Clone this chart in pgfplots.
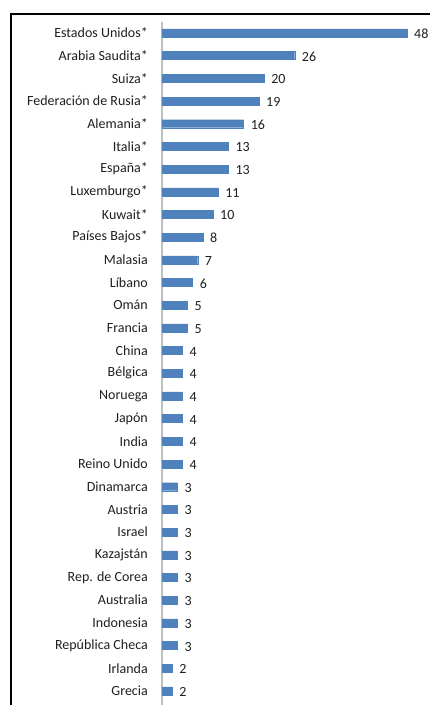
\documentclass[border=0pt]{standalone}
\usepackage{pgfplots}
\pgfplotsset{compat=1.18}
\usepackage{fontspec}
\setmainfont{Carlito}
\definecolor{barblue}{HTML}{4F81BD}
\definecolor{txt}{HTML}{1F1F1F}
\definecolor{axgray}{HTML}{BFBFBF}
\begin{document}
\begin{tikzpicture}
\useasboundingbox (0pt,0pt) rectangle (430pt,705pt);
\draw[line width=2pt] (10.5pt,0pt) -- (10.5pt,691.4pt) -- (430pt,691.4pt);
\begin{axis}[
  at={(162pt,0pt)}, anchor=south west,
  scale only axis, width=245pt, height=683.4pt,
  xmin=0, xmax=48, ymin=-0.5, ymax=29.62, y dir=reverse,
  xbar, bar width=8pt, clip=false,
  /pgf/number format/assume math mode=true,
  axis x line=none, axis y line*=left,
  y axis line style={draw=axgray, line width=1.8pt},
  major tick length=0pt,
  ytick={0,...,29},
  yticklabels={Estados Unidos*,Arabia Saudita*,Suiza*,Federación de Rusia*,Alemania*,Italia*,España*,Luxemburgo*,Kuwait*,Países Bajos*,Malasia,Líbano,Omán,Francia,China,Bélgica,Noruega,Japón,India,Reino Unido,Dinamarca,Austria,Israel,Kazajstán,Rep. de Corea,Australia,Indonesia,República Checa,Irlanda,Grecia},
  yticklabel style={font=\fontsize{14}{14}\selectfont, text=txt, anchor=east, inner sep=0pt, xshift=-14pt},
  nodes near coords,
  every node near coord/.append style={font=\fontsize{14}{14}\selectfont, text=txt, anchor=west, inner sep=0pt, xshift=7pt, yshift=-1pt},
]
\addplot[fill=barblue, draw=barblue, line width=0.4pt] coordinates {
(48,0) (26,1) (20,2) (19,3) (16,4) (13,5) (13,6) (11,7) (10,8) (8,9)
(7,10) (6,11) (5,12) (5,13) (4,14) (4,15) (4,16) (4,17) (4,18) (4,19)
(3,20) (3,21) (3,22) (3,23) (3,24) (3,25) (3,26) (3,27) (2,28) (2,29)
};
\end{axis}
\end{tikzpicture}
\end{document}
